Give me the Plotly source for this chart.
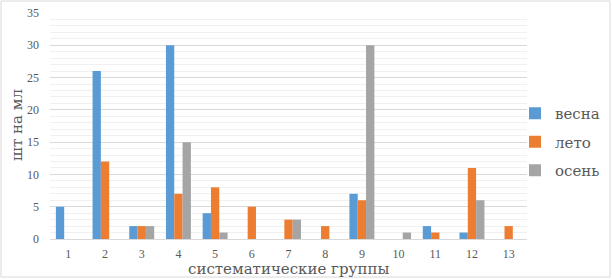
import plotly.graph_objects as go

categories = [str(i) for i in range(1, 14)]
vesna = [5, 26, 2, 30, 4, 0, 0, 0, 7, 0, 2, 1, 0]
leto = [0, 12, 2, 7, 8, 5, 3, 2, 6, 0, 1, 11, 2]
osen = [0, 0, 2, 15, 1, 0, 3, 0, 30, 1, 0, 6, 0]
series_names = ["весна", "лето", "осень"]
colors = ["#5B9BD5", "#ED7D31", "#A5A5A5"]

serif_num = "Liberation Serif"   # digits
serif_cyr = "DejaVu Serif"       # Cyrillic text

fig = go.Figure()
for name, vals, c in zip(series_names, [vesna, leto, osen], colors):
    fig.add_trace(go.Bar(x=categories, y=vals, name=name, legendgroup=name,
                         marker=dict(color=c, line=dict(width=0))))

W, H = 612, 279
ml, mr, mt, mb = 50, 85, 13, 40
pw, ph = W - ml - mr, H - mt - mb

fig.update_layout(
    width=W, height=H,
    margin=dict(l=ml, r=mr, t=mt, b=mb, autoexpand=False),
    paper_bgcolor="white", plot_bgcolor="white",
    barmode="group", bargap=0.32, bargroupgap=0,
    font=dict(family=serif_num, color="#595959"),
    legend=dict(x=(515 - ml) / pw, y=(H - mb - 97) / ph, xanchor="left", yanchor="top",
                font=dict(family=serif_cyr, size=15, color="#595959"),
                itemwidth=30, tracegroupgap=6, bgcolor="rgba(0,0,0,0)"),
    xaxis=dict(type="category", showgrid=False, showline=False, ticks="", zeroline=False,
               automargin=False,
               tickfont=dict(family=serif_num, size=12, color="#595959"), ticklabelstandoff=6),
    yaxis=dict(range=[0, 35], dtick=5, showgrid=True, gridcolor="#D9D9D9", gridwidth=1,
               zeroline=True, zerolinecolor="#D9D9D9", zerolinewidth=1,
               showline=False, ticks="", automargin=False,
               minor=dict(dtick=1, showgrid=True, gridcolor="#F0F0F0", gridwidth=1),
               tickfont=dict(family=serif_num, size=12, color="#595959"), ticklabelstandoff=10),
    annotations=[
        dict(text="систематические группы", xref="paper", yref="paper",
             x=0.499, y=-30 / ph, xanchor="center", yanchor="middle", showarrow=False,
             font=dict(family=serif_cyr, size=15, color="#595959")),
        dict(text="шт на мл", xref="paper", yref="paper", textangle=-90,
             x=(17 - ml) / pw, y=(H - mb - 125) / ph, xanchor="center", yanchor="middle",
             showarrow=False, font=dict(family=serif_cyr, size=15, color="#595959")),
    ],
    shapes=[dict(type="rect", xref="paper", yref="paper",
                 x0=(1 - ml) / pw, x1=(610 - ml) / pw,
                 y0=-(277 - (H - mb)) / ph, y1=1 + (mt - 1) / ph,
                 line=dict(color="#D9D9D9", width=1), fillcolor="rgba(0,0,0,0)", layer="below")],
)

fig.write_html("out.html", config={"displayModeBar": False},
               post_script="document.body.style.margin='0';document.body.style.padding='0';document.body.style.overflow='hidden';")
